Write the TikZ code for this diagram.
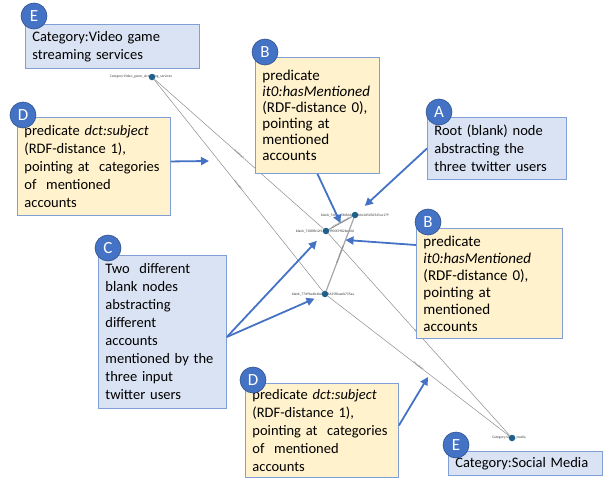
\documentclass[tikz,border=0pt]{standalone}
\usepackage{fontspec}
\setmainfont{Carlito}
\usepackage{tikz}
\usetikzlibrary{positioning,arrows.meta}

\definecolor{bluefill}{HTML}{DAE3F3}
\definecolor{yellowfill}{HTML}{FFF2CC}
\definecolor{boxline}{HTML}{7F9FD6}
\definecolor{badgeblue}{HTML}{4472C4}
\definecolor{badgeline}{HTML}{2F528F}
\definecolor{dotblue}{HTML}{1F5F8B}

\begin{document}
\begin{tikzpicture}[x=1pt,y=-1pt,
  bluebox/.style={draw=boxline,fill=bluefill,line width=0.9pt,anchor=north west,
    align=left,inner xsep=7pt,inner ysep=0pt,font=\fontsize{14.5}{18}\selectfont},
  yellowbox/.style={bluebox,fill=yellowfill},
  badge/.style={circle,fill=badgeblue,draw=badgeline,line width=0.6pt,text=white,
    minimum size=26pt,inner sep=0pt,font=\fontsize{17}{17}\selectfont},
  callout/.style={draw=badgeblue,line width=1.8pt,-{Triangle[length=8pt,width=8pt]}},
  gnode/.style={circle,fill=dotblue,inner sep=0pt,minimum size=6.5pt},
  gname/.style={font=\fontsize{3.6}{4}\selectfont,text=black!75,inner sep=0pt},
  elabel/.style={font=\fontsize{2.6}{3}\selectfont,text=black!60,sloped,inner sep=0.5pt},
  subjedge/.style={draw=black!45,line width=0.5pt},
  mentedge/.style={draw=black!35,line width=1.2pt}]

\useasboundingbox (0,0) rectangle (610,479);

% graph nodes (names first, dots on top)
\node[gname] (vglab) at (141,77) {Category:Video\_game\_streaming\_services};
\node[gname] (rootlab) at (355,215) {blank\_54fbcaf3b86dc96bb6c3d5d5d545ac179};
\node[gname] (bAlab) at (325,231) {blank\_7308fb12f123a7f900f3982bed0d};
\node[gname] (bBlab) at (323,294) {blank\_77d9ba4b4bd6f3f1635f8aaeb735aa};
\node[gname] (smlab) at (509,438) {Category:Social\_media};

\node[gnode] (vg) at (152,77) {};
\node[gnode] (root) at (355,215) {};
\node[gnode] (bA) at (326,231) {};
\node[gnode] (bB) at (325,294) {};
\node[gnode] (sm) at (512,438) {};

% graph edges
\draw[subjedge] (bA) -- node[elabel]{dct:subject} (vg);
\draw[subjedge] (bB) -- node[elabel]{dct:subject} (vg);
\draw[subjedge] (bA) -- node[elabel]{dct:subject} (sm);
\draw[subjedge] (bB) -- node[elabel]{dct:subject} (sm);
\draw[mentedge] (root) -- node[elabel]{it0:hasMentioned} coordinate[midway] (mA) (bA);
\draw[mentedge] (root) -- node[elabel]{it0:hasMentioned} coordinate[pos=0.3] (mB) (bB);

% free ends of two callouts
\coordinate (d1tip) at (209,161);
\coordinate (d2tip) at (428,377);

% callout boxes
\node[bluebox,text width=160pt,minimum height=44pt] (boxE1) at (25,24)
  {Category:Video game\\streaming services};
\node[yellowbox,text width=110pt,minimum height=116pt,font=\fontsize{15}{16}\selectfont] (boxB1) at (255,57)
  {predicate\\\textit{it0:hasMentioned}\\(RDF-distance 0),\\pointing at\\mentioned\\accounts};
\node[bluebox,text width=125pt,minimum height=62pt] (boxA) at (427,117)
  {Root (blank) node\\abstracting the\\three twitter users};
\node[yellowbox,text width=132pt,minimum height=110pt,font=\fontsize{15}{17}\selectfont] (boxB2) at (416,228)
  {predicate\\\textit{it0:hasMentioned}\\(RDF-distance 0),\\pointing at\\mentioned\\accounts};
\node[yellowbox,text width=139pt,minimum height=98pt] (boxD1) at (17,117)
  {predicate \textit{dct:subject}\\(RDF-distance 1),\\pointing at~~categories\\of~~mentioned\\accounts};
\node[bluebox,text width=114pt,minimum height=153pt] (boxC) at (98,255)
  {Two~~different\\blank nodes\\abstracting\\different\\accounts\\mentioned by the\\three input\\twitter users};
\node[yellowbox,text width=139pt,minimum height=94pt] (boxD2) at (245,383)
  {predicate \textit{dct:subject}\\(RDF-distance 1),\\pointing at~~categories\\of~~mentioned\\accounts};
\node[bluebox,text width=140pt,minimum height=24pt] (boxE2) at (448,451)
  {Category:Social Media};

% letter badges
\node[badge] (tagE1) at ([xshift=9pt,yshift=8pt]boxE1.north west) {E};
\node[badge] (tagB1) at ([xshift=10pt,yshift=5pt]boxB1.north west) {B};
\node[badge] (tagA) at ([xshift=12pt,yshift=5pt]boxA.north west) {A};
\node[badge] (tagB2) at ([xshift=12pt,yshift=6pt]boxB2.north west) {B};
\node[badge] (tagD1) at ([xshift=6pt,yshift=2pt]boxD1.north west) {D};
\node[badge] (tagC) at ([xshift=10pt,yshift=7pt]boxC.north west) {C};
\node[badge] (tagD2) at ([xshift=8pt,yshift=3pt]boxD2.north west) {D};
\node[badge] (tagE2) at ([xshift=8pt,yshift=6pt]boxE2.north west) {E};

% callout arrows
\draw[callout] (boxB1.south) -- (mA);
\draw[callout,shorten >=10pt] (boxA.west) -- (root);
\draw[callout] ([yshift=-17pt]boxB2.north west) -- (mB);
\draw[callout,shorten >=10pt] ([yshift=-5pt]boxC.east) -- (bA);
\draw[callout,shorten >=8pt] ([yshift=-5pt]boxC.east) -- (bB);
\draw[callout] ([yshift=5pt]boxD1.east) -- (d1tip);
\draw[callout] ([yshift=5pt]boxD2.east) -- (d2tip);
\end{tikzpicture}
\end{document}
